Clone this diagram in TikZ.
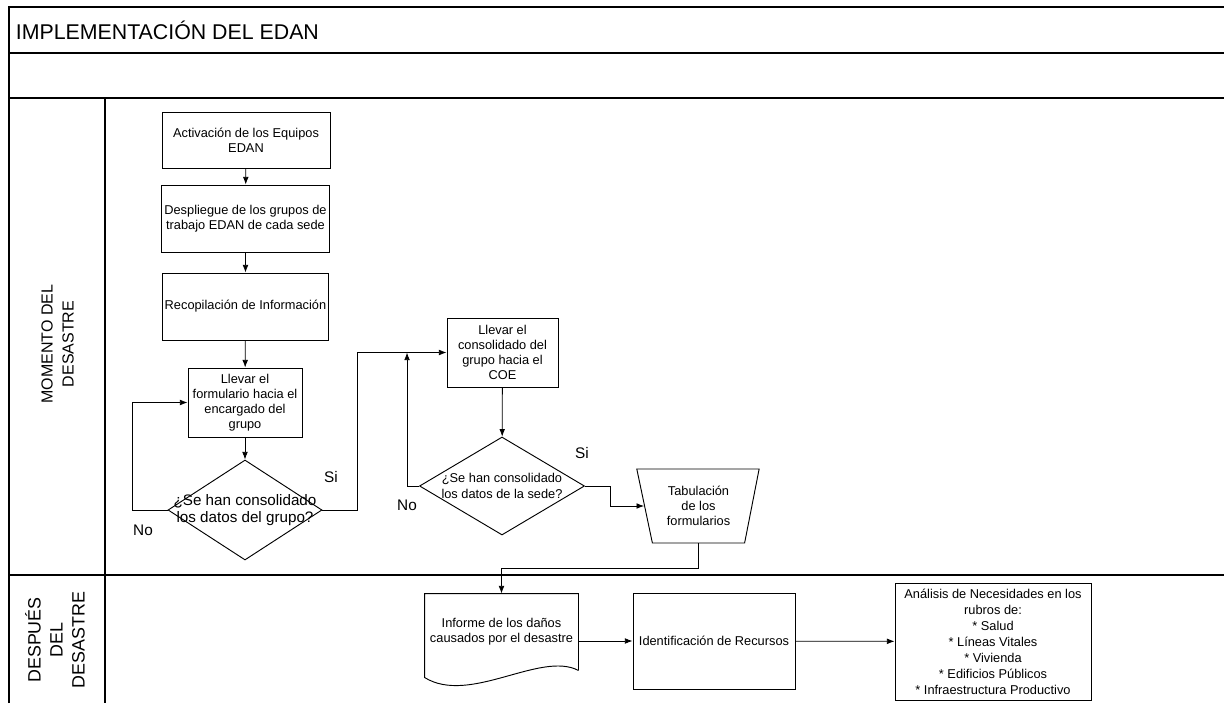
\documentclass[tikz,border=0pt]{standalone}
\usepackage{fontspec}
\setmainfont{Liberation Sans}
\usetikzlibrary{shapes,arrows,arrows.meta,calc}

\begin{document}
\begin{tikzpicture}[x=0.75pt, y=-0.75pt, line width=0.6pt,
  textbox/.style={font=\fontsize{9.6}{11.4}\selectfont, draw, line width=0.7pt, align=center, inner sep=2pt},
  decision/.style={diamond, draw, line width=0.7pt, inner sep=0pt},
  answer/.style={font=\fontsize{11.5}{13}\selectfont},
  lane/.style={font=\fontsize{12}{15.75}\selectfont, align=center, rotate=90}]
\useasboundingbox (0,0) rectangle (1224,703);
%frame
\draw[line width=0.8pt] (9,703) -- (9,7) -- (1224,7);
\draw[line width=0.8pt] (9,53) -- (1224,53);
\draw[line width=0.8pt] (9,98) -- (1224,98);
\draw[line width=0.8pt] (9,575) -- (1224,575);
\draw[line width=0.8pt] (105,98) -- (105,703);
\node[anchor=west, font=\fontsize{16}{19}\selectfont] (title) at (11,30) {IMPLEMENTACIÓN DEL EDAN};
\node[lane] (lane1) at (57.5,344) {MOMENTO DEL\\DESASTRE};
\node[lane, font=\fontsize{13.4}{16.5}\selectfont] (lane2) at (55,640) {DESPUÉS\\DEL\\DESASTRE};
%momento del desastre
\node[textbox, minimum width=126pt, minimum height=42pt] (act) at (246,140) {Activación de los Equipos\\EDAN};
\node[textbox, minimum width=123.75pt, minimum height=50.25pt] (desp) at (245.5,218.5) {Despliegue de los grupos de\\trabajo EDAN de cada sede};
\node[textbox, minimum width=123.75pt, minimum height=50.25pt] (recop) at (245.5,306.5) {Recopilación de Información};
\node[textbox, minimum width=85.5pt, minimum height=51.75pt] (form) at (245,402.5) {Llevar el\\formulario hacia el\\encargado del\\grupo};
\node[decision, minimum width=115.5pt, minimum height=75pt, label={[font=\fontsize{11.4}{13}\selectfont, align=center]center:{¿Se han consolidado\\los datos del grupo?}}] (dec1) at (245,510) {};
\node[textbox, minimum width=83.25pt, minimum height=51.75pt] (coe) at (502.5,352.5) {Llevar el\\consolidado del\\grupo hacia el\\COE};
\node[decision, minimum width=123.75pt, minimum height=73.5pt, label={[font=\fontsize{9.6}{11.4}\selectfont, align=center]center:{¿Se han consolidado\\los datos de la sede?}}] (dec2) at (502,486) {};
\node[textbox, trapezium, trapezium stretches=true, trapezium left angle=105, trapezium right angle=104, minimum width=92.25pt, minimum height=55.5pt, inner sep=0pt] (tab) at (698.5,506) {Tabulación\\de los\\formularios};
\node[answer] (si1) at (331,477) {Si};
\node[answer] (no1) at (143,530) {No};
\node[answer] (si2) at (582,453) {Si};
\node[answer] (no2) at (407,505) {No};
%despues del desastre
\node[textbox, draw=none, minimum width=114.75pt, minimum height=57pt] (inf) at (501.5,632) {Informe de los daños\\causados por el desastre};
\draw[line width=0.7pt] (inf.south east) -- (inf.north east) -- (inf.north west) -- ($(inf.south west)+(0,7)$) .. controls ($(inf.south west)+(45,35)$) and ($(inf.south east)+(-38,-20)$) .. (inf.south east);
\node[textbox, minimum width=121.5pt, minimum height=72pt] (ident) at (714,641) {Identificación de Recursos};
\node[textbox, font=\fontsize{9.6}{12}\selectfont, minimum width=147pt, minimum height=87.75pt] (anal) at (993,641.5) {Análisis de Necesidades en los\\rubros de:\\* Salud\\* Líneas Vitales\\* Vivienda\\* Edificios Públicos\\* Infraestructura Productivo};
\draw [-Latex] (act) edge (desp);
\draw [-Latex] (desp) edge (recop);
\draw [-Latex] (recop) edge (form);
\draw [-Latex] (form) edge (dec1);
\draw [-Latex] (dec1.west) -- ++(-35,0) |- (form.west);
\draw [-Latex] (dec1.east) -- ++(35,0) |- (coe.west);
\draw [-Latex] (coe) edge (dec2);
\draw [-Latex] (dec2.west) -- ++(-12,0) coordinate (back) -- (back |- coe.west);
\draw [-Latex] (dec2.east) -- ++(25,0) |- (tab.west);
\draw [-Latex] (tab.south) -- ++(0,25) -| (inf.north);
\draw [-Latex] (inf.east |- ident.west) -- (ident.west);
\draw [-Latex] (ident) edge (anal);
\end{tikzpicture}
\end{document}
